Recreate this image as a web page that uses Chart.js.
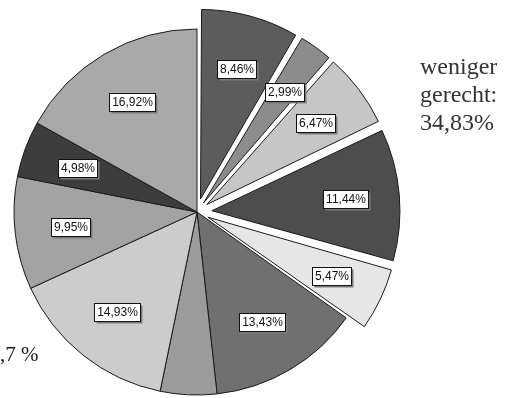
<!DOCTYPE html>
<html>
<head>
<meta charset="utf-8">
<script src="https://cdn.jsdelivr.net/npm/chart.js@4/dist/chart.umd.min.js"></script>
<style>
  html, body { margin: 0; padding: 0; background: #fff; }
  #wrap { position: relative; width: 512px; height: 398px; overflow: hidden; }
  canvas { position: absolute; left: 0; top: 0; }
  .side { position: absolute; font-family: "Liberation Serif", "Times New Roman", serif; color: #333; }
  #group { left: 420px; top: 52px; font-size: 24px; line-height: 28px; }
  #rest { left: 0px; top: 342px; font-size: 21px; color: #1a1a1a; }
</style>
</head>
<body>
<div id="wrap">
  <canvas id="c" width="512" height="398"></canvas>
  <div class="side" id="group">weniger<br>gerecht:<br>34,83%</div>
  <div class="side" id="rest">,7 %</div>
</div>
<script>
// Shares of answers, in percent, clockwise from 12 o'clock
const categories = ['A1', 'A2', 'A3', 'A4', 'A5', 'B1', 'B2', 'B3', 'B4', 'B5', 'B6'];
const shares = [8.46, 2.99, 6.47, 11.44, 5.47, 13.43, 4.98, 14.93, 9.95, 4.98, 16.92];
// First five slices belong to the "weniger gerecht" group and are pulled out
const groupWeniger = [true, true, true, true, true, false, false, false, false, false, false];
// Slice whose value label is not printed
const labelHidden = [false, false, false, false, false, false, true, false, false, false, false];

const fills = ['#5c5c5c', '#8c8c8c', '#c6c6c6', '#4d4d4d', '#e6e6e6',
               '#707070', '#9c9c9c', '#cccccc', '#a3a3a3', '#3d3d3d', '#a9a9a9'];

const RADIUS = 183;   // pie radius in px
const PULL = 20;      // distance an exploded slice is moved out, px
const total = shares.reduce((a, b) => a + b, 0);

const fmt = v => v.toFixed(2).replace('.', ',') + '%';

// Chart.js shifts an arc by offset/4 * (1 + fix), fix = 1 - sin(circumference);
// choose the offset that gives the same PULL shift for every exploded slice.
function arcOffset(i) {
  if (!groupWeniger[i]) return 0;
  const circ = shares[i] / total * 2 * Math.PI;
  return 4 * PULL / (2 - Math.sin(Math.min(Math.PI, circ)));
}

// Boxed percentage labels with a small drop shadow
const boxLabels = {
  id: 'boxLabels',
  afterDatasetsDraw(chart) {
    const ctx = chart.ctx;
    const meta = chart.getDatasetMeta(0);
    ctx.save();
    ctx.font = '12px "Liberation Sans", Arial, sans-serif';
    ctx.textAlign = 'center';
    ctx.textBaseline = 'middle';
    meta.data.forEach((arc, i) => {
      if (labelHidden[i]) return;
      const mid = (arc.startAngle + arc.endAngle) / 2;
      const r = (groupWeniger[i] ? PULL : 0) + 0.7 * RADIUS;
      const x = Math.round(arc.x + Math.cos(mid) * r);
      const y = Math.round(arc.y + Math.sin(mid) * r);
      const txt = fmt(shares[i]);
      const w = Math.round(ctx.measureText(txt).width + 5);
      const h = 18;
      const bx = Math.round(x - w / 2) + 0.5, by = Math.round(y - h / 2) + 0.5;
      ctx.fillStyle = '#7a7a7a';
      ctx.fillRect(bx + 2, by + 2, w, h);
      ctx.fillStyle = '#ffffff';
      ctx.fillRect(bx, by, w, h);
      ctx.strokeStyle = '#111';
      ctx.lineWidth = 1;
      ctx.strokeRect(bx, by, w, h);
      ctx.fillStyle = '#111';
      ctx.fillText(txt, bx + w / 2, by + h / 2 + 0.5);
    });
    ctx.restore();
  }
};

new Chart(document.getElementById('c'), {
  type: 'pie',
  data: {
    labels: categories,
    datasets: [{
      data: shares,
      backgroundColor: fills,
      borderColor: '#1a1a1a',
      borderWidth: 1,
      offset: ctx => arcOffset(ctx.dataIndex)
    }]
  },
  options: {
    responsive: false,
    animation: false,
    radius: RADIUS,
    layout: { padding: { left: 0, right: 118, top: 26, bottom: 0 } },
    plugins: {
      legend: { display: false },
      tooltip: { enabled: false }
    }
  },
  plugins: [boxLabels]
});
</script>
</body>
</html>
